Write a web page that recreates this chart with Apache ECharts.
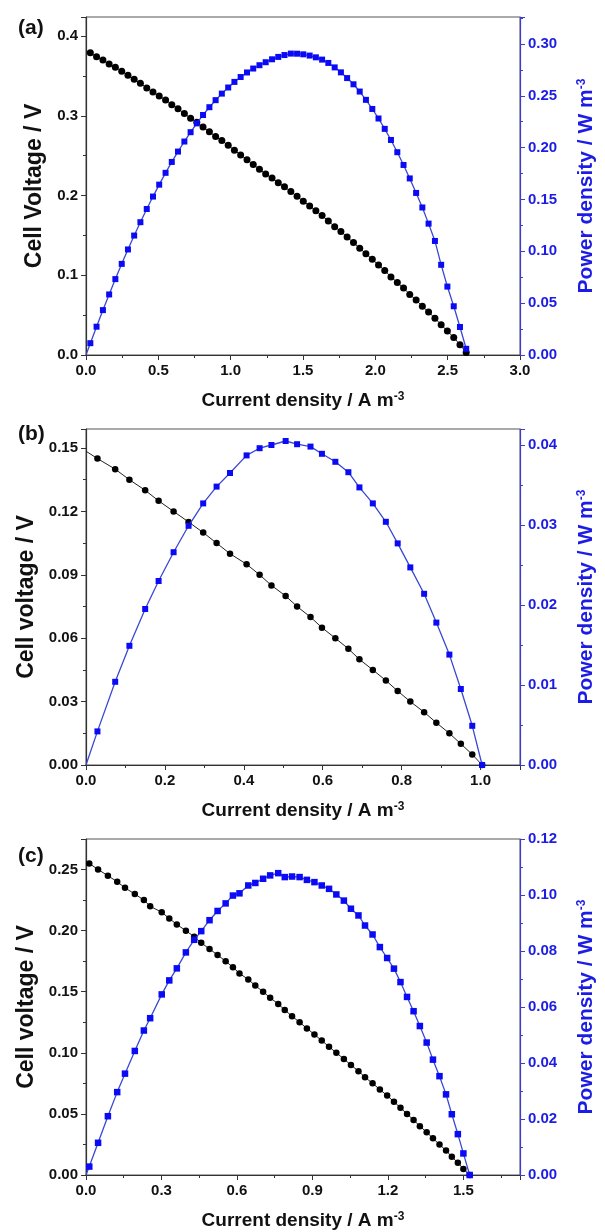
<!DOCTYPE html>
<html><head><meta charset="utf-8">
<script src="https://cdn.jsdelivr.net/npm/echarts@6/dist/echarts.min.js"></script>
<style>html,body{margin:0;padding:0;background:#fff}#c{width:605px;height:1232px}</style>
</head><body><div id="c"></div>
<script>
// ---------- Panel (a) ----------
const aCurrent = [0, 0.030, 0.073, 0.117, 0.160, 0.203, 0.247, 0.290, 0.333, 0.376, 0.420, 0.463, 0.506, 0.550, 0.593, 0.636, 0.680, 0.723, 0.766, 0.809, 0.853, 0.896, 0.939, 0.983, 1.026, 1.069, 1.113, 1.156, 1.199, 1.242, 1.286, 1.329, 1.372, 1.416, 1.459, 1.502, 1.546, 1.589, 1.632, 1.675, 1.719, 1.762, 1.805, 1.849, 1.892, 1.935, 1.979, 2.022, 2.065, 2.108, 2.152, 2.195, 2.238, 2.282, 2.325, 2.368, 2.412, 2.455, 2.498, 2.542, 2.585, 2.628];
const aVoltage = [0.382, 0.379, 0.374, 0.370, 0.365, 0.361, 0.356, 0.351, 0.346, 0.341, 0.335, 0.330, 0.325, 0.320, 0.314, 0.309, 0.303, 0.297, 0.292, 0.286, 0.280, 0.274, 0.269, 0.263, 0.257, 0.251, 0.245, 0.239, 0.233, 0.227, 0.222, 0.216, 0.211, 0.205, 0.199, 0.193, 0.187, 0.181, 0.175, 0.168, 0.161, 0.155, 0.148, 0.141, 0.134, 0.127, 0.120, 0.113, 0.106, 0.098, 0.091, 0.084, 0.076, 0.069, 0.061, 0.054, 0.046, 0.038, 0.030, 0.022, 0.013, 0.003];
const aPower = [0, 0.0114, 0.0273, 0.0433, 0.0584, 0.0732, 0.0879, 0.1018, 0.1152, 0.1281, 0.1408, 0.1528, 0.1643, 0.1757, 0.1862, 0.1962, 0.2059, 0.2149, 0.2234, 0.2315, 0.2390, 0.2458, 0.2521, 0.2580, 0.2634, 0.2681, 0.2725, 0.2763, 0.2795, 0.2824, 0.2852, 0.2875, 0.2893, 0.2907, 0.2906, 0.2900, 0.2888, 0.2871, 0.2849, 0.2817, 0.2774, 0.2726, 0.2671, 0.2611, 0.2541, 0.2461, 0.2373, 0.2281, 0.2181, 0.2074, 0.1956, 0.1833, 0.1703, 0.1563, 0.1423, 0.1267, 0.1100, 0.0870, 0.0660, 0.0470, 0.0270, 0.0060];

// ---------- Panel (b) ----------
const bCurrent = [0, 0.029, 0.074, 0.110, 0.150, 0.184, 0.222, 0.260, 0.297, 0.331, 0.365, 0.407, 0.440, 0.470, 0.506, 0.535, 0.569, 0.598, 0.632, 0.665, 0.693, 0.727, 0.760, 0.790, 0.822, 0.857, 0.888, 0.921, 0.950, 0.979, 1.004];
const bVoltage = [0.1485, 0.145, 0.140, 0.135, 0.130, 0.125, 0.120, 0.115, 0.110, 0.105, 0.100, 0.095, 0.090, 0.085, 0.080, 0.075, 0.070, 0.065, 0.060, 0.055, 0.050, 0.045, 0.040, 0.035, 0.030, 0.025, 0.020, 0.015, 0.010, 0.005, 0.000];
const bPower = [0, 0.0042, 0.0104, 0.0149, 0.0195, 0.0230, 0.0266, 0.0299, 0.0327, 0.0348, 0.0365, 0.0387, 0.0396, 0.0400, 0.0405, 0.0401, 0.0398, 0.0389, 0.0379, 0.0366, 0.0347, 0.0327, 0.0304, 0.0277, 0.0247, 0.0214, 0.0178, 0.0138, 0.0095, 0.0049, 0];

// ---------- Panel (c) ----------
const cCurrent = [0, 0.013, 0.048, 0.087, 0.124, 0.155, 0.194, 0.230, 0.255, 0.301, 0.331, 0.361, 0.397, 0.430, 0.458, 0.491, 0.523, 0.555, 0.584, 0.610, 0.645, 0.673, 0.704, 0.732, 0.764, 0.790, 0.819, 0.849, 0.878, 0.908, 0.937, 0.966, 0.995, 1.025, 1.053, 1.083, 1.109, 1.139, 1.168, 1.197, 1.224, 1.250, 1.276, 1.302, 1.327, 1.354, 1.379, 1.405, 1.431, 1.454, 1.478, 1.500, 1.525];
const cVoltage = [0.257, 0.255, 0.250, 0.245, 0.240, 0.235, 0.230, 0.225, 0.220, 0.215, 0.210, 0.205, 0.200, 0.195, 0.190, 0.185, 0.180, 0.175, 0.170, 0.165, 0.160, 0.155, 0.150, 0.145, 0.140, 0.135, 0.130, 0.125, 0.120, 0.115, 0.110, 0.105, 0.100, 0.095, 0.090, 0.085, 0.080, 0.075, 0.070, 0.065, 0.060, 0.055, 0.050, 0.045, 0.040, 0.035, 0.030, 0.025, 0.020, 0.015, 0.010, 0.005, 0.000];
const cPower = [0, 0.0030, 0.0115, 0.0210, 0.0296, 0.0362, 0.0443, 0.0516, 0.0560, 0.0645, 0.0695, 0.0738, 0.0795, 0.0840, 0.0871, 0.0910, 0.0943, 0.0970, 0.0998, 0.1006, 0.1034, 0.1043, 0.1058, 0.1070, 0.1078, 0.1064, 0.1066, 0.1064, 0.1054, 0.1046, 0.1034, 0.1022, 0.1002, 0.0980, 0.0951, 0.0927, 0.0891, 0.0859, 0.0814, 0.0775, 0.0737, 0.0689, 0.0636, 0.0585, 0.0532, 0.0473, 0.0412, 0.0353, 0.0288, 0.0217, 0.0146, 0.0077, 0];

// ---------- Axis scales / labels ----------
const panelLabels = ['(a)', '(b)', '(c)'];
const xMax = [3.0, 1.1, 1.725];
const xStep = [0.5, 0.2, 0.3];
const vMax = [0.424, 0.159, 0.275];
const vStep = [0.1, 0.03, 0.05];
const vDec = [1, 2, 2];
const pMax = [0.326, 0.042, 0.12];
const pStep = [0.05, 0.01, 0.02];
const vTitles = ['Cell Voltage / V', 'Cell voltage / V', 'Cell voltage / V'];
const xTitle = 'Current density / A m';
const pTitle = 'Power density / W m';
const supText = '-3';

const panels = [
  {I: aCurrent, V: aVoltage, P: aPower, vs: 7, ps: 6},
  {I: bCurrent, V: bVoltage, P: bPower, vs: 6.5, ps: 6},
  {I: cCurrent, V: cVoltage, P: cPower, vs: 6.5, ps: 6.5}
];

const FONT = '"Liberation Sans", Arial, sans-serif';
const DARK = '#222';
const AX = '#333';
const BLUE = '#1c1ce6';
const BLUEAX = '#3b3bd6';
const MARK = '#0a0af5';
const BLUELINE = '#3a48d2';

const gridTops = [17, 429, 839];
const gridHeights = [338, 336, 336];
const vNameGap = [37, 45, 45];

function fmt(step, dec) {
  return function (v) {
    const r = v / step;
    return Math.abs(r - Math.round(r)) < 1e-6 ? v.toFixed(dec) : '';
  };
}

const grid = [], xAxis = [], yAxis = [], series = [], graphic = [];
for (let i = 0; i < 3; i++) {
  grid.push({left: 86, width: 443, top: gridTops[i], height: gridHeights[i],
    show: true, borderColor: '#555', borderWidth: 1, backgroundColor: 'transparent'});
  xAxis.push({
    type: 'value', gridIndex: i, min: 0, max: xMax[i], interval: xStep[i],
    axisLine: {show: true, onZero: false, lineStyle: {color: AX, width: 1.2}},
    axisTick: {show: true, length: 5, lineStyle: {color: AX, width: 1}},
    minorTick: {show: true, splitNumber: 2, length: 3, lineStyle: {color: AX}},
    splitLine: {show: false},
    axisLabel: {margin: 8, fontSize: 15, fontWeight: 'bold', color: '#111', fontFamily: FONT,
      formatter: fmt(xStep[i], 1)},
    name: xTitle + '{s|' + supText + '}', nameLocation: 'middle', nameGap: 36,
    nameTextStyle: {fontSize: 19, fontWeight: 'bold', color: '#111', fontFamily: FONT,
      rich: {s: {fontSize: 12, fontWeight: 'bold', color: '#111', fontFamily: FONT, verticalAlign: 'top', lineHeight: 12}}}
  });
  yAxis.push({
    type: 'value', gridIndex: i, position: 'left', min: 0, max: vMax[i], interval: vStep[i],
    axisLine: {show: true, onZero: false, lineStyle: {color: AX, width: 1.2}},
    axisTick: {show: true, length: 5, lineStyle: {color: AX}},
    minorTick: {show: true, splitNumber: 2, length: 3, lineStyle: {color: AX}},
    splitLine: {show: false},
    axisLabel: {margin: 8, fontSize: 15, fontWeight: 'bold', color: '#111', fontFamily: FONT,
      formatter: fmt(vStep[i], vDec[i])},
    name: vTitles[i], nameLocation: 'middle', nameGap: vNameGap[i],
    nameTextStyle: {fontSize: 23, fontWeight: 'bold', color: '#111', fontFamily: FONT}
  });
  yAxis.push({
    type: 'value', gridIndex: i, position: 'right', min: 0, max: pMax[i], interval: pStep[i], z: 3,
    axisLine: {show: true, onZero: false, lineStyle: {color: BLUEAX, width: 1.2}},
    axisTick: {show: true, length: 5, lineStyle: {color: BLUEAX}},
    minorTick: {show: true, splitNumber: 2, length: 3, lineStyle: {color: BLUEAX}},
    splitLine: {show: false},
    axisLabel: {margin: 8, fontSize: 15, fontWeight: 'bold', color: BLUE, fontFamily: FONT,
      formatter: fmt(pStep[i], 2)},
    name: pTitle + '{s|' + supText + '}', nameLocation: 'middle', nameGap: 56,
    nameTextStyle: {fontSize: 21, fontWeight: 'bold', color: BLUE, fontFamily: FONT,
      rich: {s: {fontSize: 12, fontWeight: 'bold', color: BLUE, fontFamily: FONT, verticalAlign: 'top', lineHeight: 12}}}
  });
  const p = panels[i];
  series.push({
    type: 'line', xAxisIndex: i, yAxisIndex: 2 * i, z: 2,
    data: p.I.map((x, j) => j === 0 ? {value: [x, p.V[j]], symbol: 'none'} : [x, p.V[j]]),
    symbol: 'circle', symbolSize: p.vs,
    itemStyle: {color: '#000'}, lineStyle: {color: DARK, width: 1}
  });
  series.push({
    type: 'line', xAxisIndex: i, yAxisIndex: 2 * i + 1, z: 3,
    data: p.I.map((x, j) => j === 0 ? {value: [x, p.P[j]], symbol: 'none'} : [x, p.P[j]]),
    symbol: 'rect', symbolSize: p.ps,
    itemStyle: {color: MARK}, lineStyle: {color: BLUELINE, width: 1.3}
  });
}
const labelTops = [18, 424, 846];
for (let i = 0; i < 3; i++) {
  graphic.push({type: 'text', left: 18, top: labelTops[i],
    style: {text: panelLabels[i], font: 'bold 21px ' + FONT, fill: '#111'}});
}

const chart = echarts.init(document.getElementById('c'), null, {renderer: 'canvas'});
chart.setOption({animation: false, backgroundColor: '#fff', grid, xAxis, yAxis, series, graphic});
</script>
</body></html>
